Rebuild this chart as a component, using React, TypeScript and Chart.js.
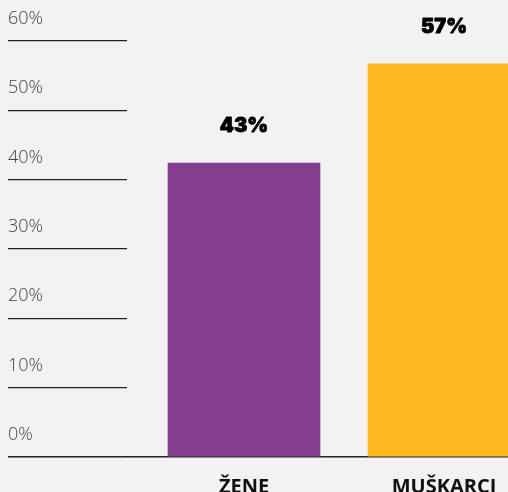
import React, { useEffect, useRef } from 'react';
import { Chart, registerables } from 'chart.js';

Chart.register(...registerables);

const categories = ['ŽENE', 'MUŠKARCI'];
const values = [42.4, 56.7];
const valueLabels = ['43%', '57%'];
const barColors = ['#823F8E', '#FDB71F'];
const yMin = 0;
const yMax = 60;
const yStep = 10;
const yTickSuffix = '%';

export default function App() {
  const canvasRef = useRef<HTMLCanvasElement>(null);

  useEffect(() => {
    document.body.style.margin = '0';
    document.body.style.background = '#F2F2F2';
    document.body.style.overflow = 'hidden';
    let chart: Chart | null = null;
    let cancelled = false;

    const valueLabelPlugin = {
      id: 'valueLabels',
      afterDatasetsDraw(c: any) {
        const ctx = c.ctx;
        const meta = c.getDatasetMeta(0);
        ctx.save();
        ctx.font = '900 20px Inter';
        ctx.fillStyle = '#000000';
        ctx.strokeStyle = '#000000';
        ctx.lineWidth = 0.8;
        ctx.lineJoin = 'round';
        ctx.textAlign = 'center';
        ctx.textBaseline = 'middle';
        meta.data.forEach((el: any, i: number) => {
          ctx.fillText(valueLabels[i], el.x, el.y - 37);
          ctx.strokeText(valueLabels[i], el.x, el.y - 37);
        });
        ctx.restore();
      },
    };

    const make = () => {
      if (cancelled || !canvasRef.current) return;
      chart = new Chart(canvasRef.current, {
        type: 'bar',
        data: {
          datasets: [
            {
              data: categories.map((_, i) => ({ x: i, y: values[i] })),
              backgroundColor: barColors,
              borderWidth: 0,
              barThickness: 152,
            },
          ],
        },
        options: {
          animation: false,
          responsive: false,
          devicePixelRatio: 1,
          layout: { padding: { left: 8, top: 41, right: 0, bottom: 0 } },
          plugins: { legend: { display: false }, tooltip: { enabled: false } },
          scales: {
            x: {
              type: 'linear',
              position: 'bottom',
              offset: false,
              bounds: 'data',
              min: -0.585,
              max: 1.32,
              afterBuildTicks: (scale: any) => {
                scale.ticks = categories.map((_, i) => ({ value: i }));
              },
              afterFit: (scale: any) => {
                scale.height = 35;
                scale.paddingLeft = 0;
                scale.paddingRight = 0;
              },
              grid: { display: false, drawTicks: false, offset: false },
              border: { display: true, color: '#222222', width: 1.5 },
              ticks: {
                autoSkip: false,
                maxRotation: 0,
                padding: 18,
                color: '#111111',
                font: { family: '"Open Sans"', size: 20, weight: '700' },
                callback: (v: any) => categories[v as number] ?? '',
              },
            },
            y: {
              type: 'linear',
              position: 'left',
              min: yMin,
              max: yMax,
              afterFit: (scale: any) => {
                scale.width = 119;
              },
              border: { display: false },
              grid: {
                display: true,
                drawOnChartArea: false,
                drawTicks: true,
                tickLength: 119,
                color: '#222222',
                lineWidth: (ctx: any) => (ctx.tick && ctx.tick.value === 0 ? 1.5 : 1.2),
              },
              ticks: {
                stepSize: yStep,
                crossAlign: 'far',
                labelOffset: -22,
                color: '#444444',
                font: { family: '"Open Sans"', size: 18, weight: '300' },
                callback: (v: any) => `${v}${yTickSuffix}`,
              },
            },
          },
        },
        plugins: [valueLabelPlugin],
      } as any);
    };

    const fontsApi = (document as any).fonts;
    if (fontsApi && fontsApi.load) {
      Promise.all([
        fontsApi.load('900 20px Inter'),
        fontsApi.load('700 20px "Open Sans"'),
        fontsApi.load('300 18px "Open Sans"'),
      ])
        .catch(() => undefined)
        .then(make);
    } else {
      make();
    }

    return () => {
      cancelled = true;
      if (chart) chart.destroy();
    };
  }, []);

  return (
    <div style={{ width: 508, height: 492, background: '#F2F2F2' }}>
      <canvas ref={canvasRef} width={508} height={492} style={{ display: 'block' }} />
    </div>
  );
}
